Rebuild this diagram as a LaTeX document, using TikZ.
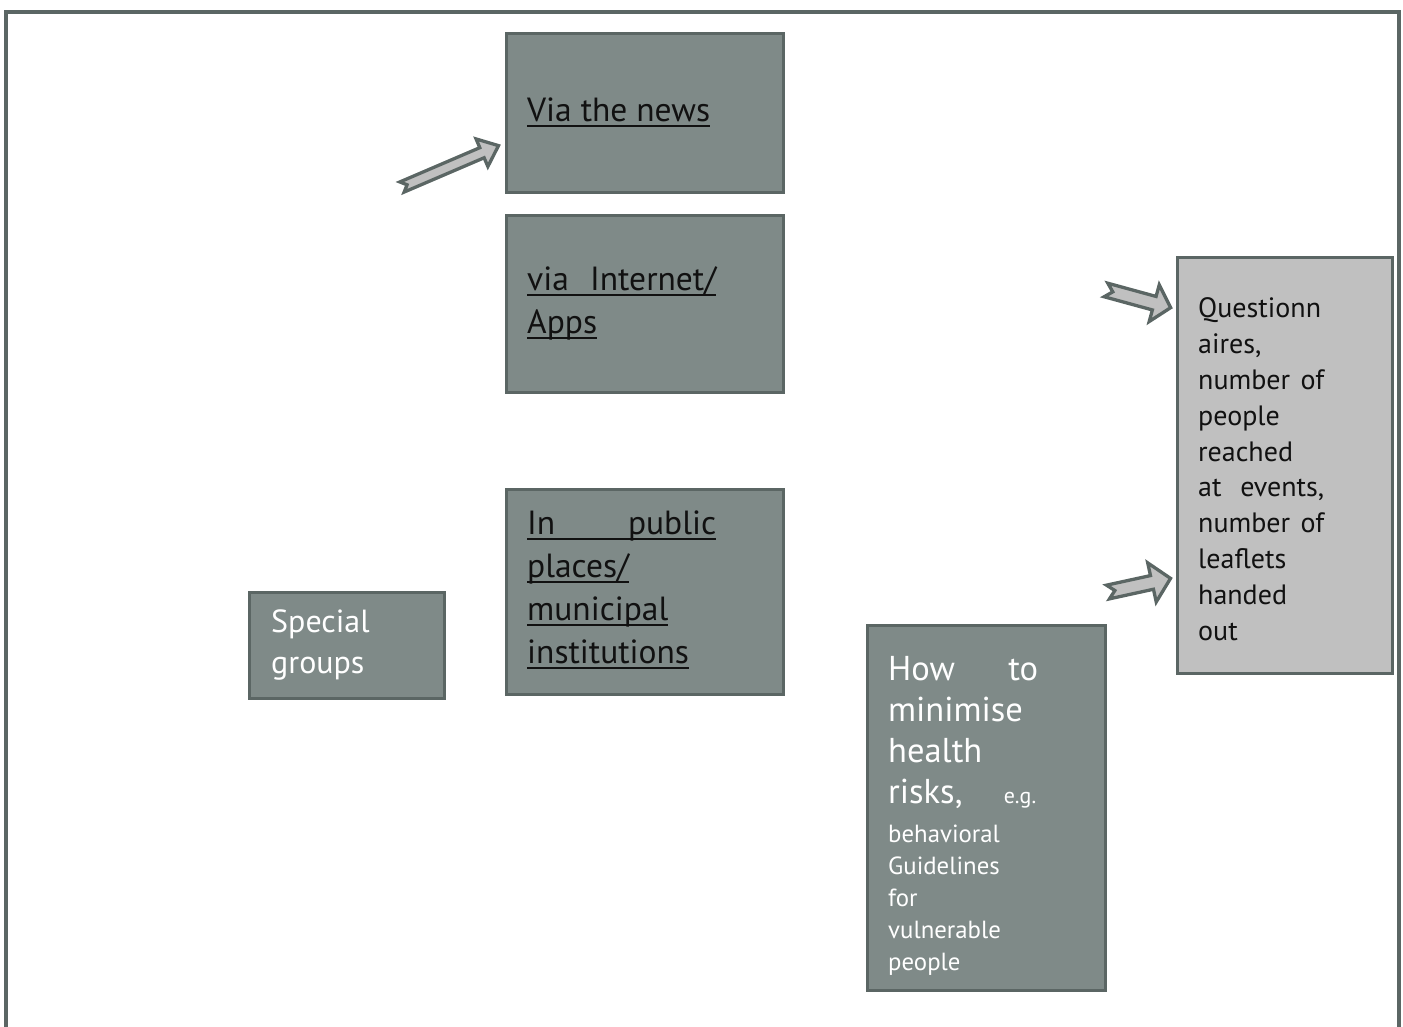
\documentclass[tikz,border=0pt]{standalone}
\usepackage{fontspec}
\setmainfont{PT Sans}
\usetikzlibrary{positioning}

\definecolor{boxfill}{HTML}{7F8A88}
\definecolor{boxline}{HTML}{5B6664}
\definecolor{lightfill}{HTML}{C0C0C0}
\definecolor{darktext}{HTML}{111111}

% underline with a thicker rule
\newcommand{\undl}[1]{\setbox0\hbox{#1}\rlap{\rule[-5.5pt]{\wd0}{2pt}}\box0}
% notched block arrow: tail x, tail y, angle, length, shaft, head, head length
\newcommand{\blockarrow}[7]{%
\begin{scope}[shift={(#1,#2)},rotate=#3]
\draw[arrowline] (0,-#5) -- (#4-#7,-#5) -- (#4-#7,-#6) -- (#4,0) -- (#4-#7,#6) -- (#4-#7,#5) -- (0,#5) -- (#5,0) -- cycle;
\end{scope}}

\begin{document}
\begin{tikzpicture}[x=1pt,y=-1pt,
  box/.style={draw=boxline,fill=boxfill,line width=3.3pt,anchor=north west,inner sep=0pt},
  lightbox/.style={box,fill=lightfill},
  txt/.style={anchor=base west,inner sep=0pt,align=left},
  arrowline/.style={draw=boxline,fill=lightfill,line width=3.3pt,line join=miter}]
\useasboundingbox (0,0) rectangle (1403,1027);
\draw[boxline,line width=3.5pt] (6,1027) -- (6,12) -- (1399,12) -- (1399,1027);

% channels (text nodes sit on the baseline of their last line)
\node[box,minimum width=277pt,minimum height=159pt] (news) at (505,32) {};
\node[txt,text=darktext,font=\fontsize{33.5}{43}\selectfont] (newstext) at (527,122) {\undl{Via the news}};

\node[box,minimum width=277pt,minimum height=177pt] (internet) at (505,214) {};
\node[txt,text=darktext,font=\fontsize{33.5}{43}\selectfont] (internettext) at (527,333)
  {\undl{\hbox to 189pt{via\hfill Internet/}}\\ \undl{Apps}};

\node[box,minimum width=277pt,minimum height=205pt] (public) at (505,488) {};
\node[txt,text=darktext,font=\fontsize{33.5}{42.7}\selectfont] (publictext) at (527,663)
  {\undl{\hbox to 189pt{In\hfill public}}\\ \undl{places/}\\ \undl{municipal}\\ \undl{institutions}};

\node[box,minimum width=195pt,minimum height=106pt] (special) at (248,591) {};
\node[txt,text=white,font=\fontsize{32}{41}\selectfont] (specialtext) at (271,673) {Special\\ groups};

% content
\node[box,minimum width=238pt,minimum height=365pt] (health) at (866,624) {};
\node[txt,text=white,font=\fontsize{34.5}{41}\selectfont] (healthtext) at (888,803)
  {\hbox to 150pt{How\hfill to}\\ minimise\\ health\\ \hbox to 148pt{risks,\hfill{\fontsize{22}{22}\selectfont e.g.}}};
\node[txt,text=white,font=\fontsize{24.8}{31.8}\selectfont] (guidetext) at (888,970)
  {behavioral\\ Guidelines\\ for\\ vulnerable\\ people};

% evaluation
\node[lightbox,minimum width=215pt,minimum height=416pt] (quest) at (1176,256) {};
\node[txt,text=darktext,font=\fontsize{28}{35.8}\selectfont] (questtext) at (1198,640)
  {Questionn\\ aires,\\ \hbox to 126pt{number\hfill of}\\ people\\ reached\\ \hbox to 126pt{at\hfill events,}\\ \hbox to 126pt{number\hfill of}\\ leaflets\\ handed\\ out};

% arrows
\blockarrow{402}{187}{23.2}{105}{5.5}{15}{18}
\blockarrow{1106}{290}{-15.3}{67}{7}{19}{17}
\blockarrow{1108}{592}{12.3}{64}{7}{20}{19}
\end{tikzpicture}
\end{document}
